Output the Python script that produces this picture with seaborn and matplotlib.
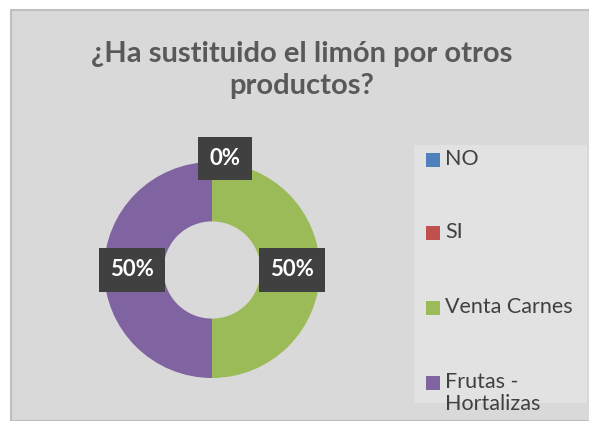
import matplotlib.pyplot as plt
import seaborn as sns
from matplotlib.patches import Rectangle
import numpy as np

# Data
categorias = ['NO', 'SI', 'Venta Carnes', 'Frutas -\nHortalizas']
valores = [0, 0, 50, 50]
etiquetas = ['0%', '', '50%', '50%']
colores = ['#4f81bd', '#c0504d', '#9bbb59', '#8064a2']
titulo = '¿Ha sustituido el limón por otros\nproductos?'

sns.set_theme(style='white')
plt.rcParams['font.family'] = ['Lato', 'DejaVu Sans']

W, H = 589, 421
fig = plt.figure(figsize=(W / 100, H / 100), dpi=100)
fig.patch.set_facecolor('white')

# chart area background
fig.patches.append(Rectangle((11 / W, 0), 1, 1 - 10 / H, transform=fig.transFigure,
                             facecolor='#d9d9d9', edgecolor='#bfbfbf', lw=1.5, zorder=-2))

# legend background
fig.patches.append(Rectangle((414 / W, 1 - 403 / H), 173 / W, 258 / H, transform=fig.transFigure,
                             facecolor='#e2e2e2', edgecolor='none', zorder=-1))

fig.text(302 / W, 1 - 70 / H, titulo, ha='center', va='center', fontsize=21,
         fontweight='bold', color='#595959', linespacing=1.25)

# donut
cx, cy, r = 212, 270, 108
ax = fig.add_axes([(cx - r) / W, 1 - (cy + r) / H, 2 * r / W, 2 * r / H])
ax.set_zorder(2)
wedges, _ = ax.pie(valores, colors=colores, startangle=90, counterclock=False,
                   wedgeprops=dict(width=0.55, edgecolor='none'))
ax.set_xlim(-1, 1)
ax.set_ylim(-1, 1)
ax.axis('off')

box = dict(boxstyle='square,pad=0.5', facecolor='#404040', edgecolor='none')
for w, v, lab in zip(wedges, valores, etiquetas):
    if not lab:
        continue
    ang = np.deg2rad((w.theta1 + w.theta2) / 2)
    if v == 0:
        x, y = 0.12, 1.03
    else:
        x, y = 0.74 * np.cos(ang), 0.74 * np.sin(ang)
    ax.text(x, y, lab, ha='center', va='center', fontsize=16, fontweight='bold',
            color='white', bbox=box, zorder=5, clip_on=False)

# legend
ys = [160, 233, 308, 383]
for lab, col, y in zip(categorias, colores, ys):
    fig.patches.append(Rectangle((426 / W, 1 - (y + 7) / H), 14 / W, 14 / H,
                                 transform=fig.transFigure, facecolor=col, edgecolor='none'))
    fig.text(445 / W, 1 - (y - 11) / H, lab, ha='left', va='top', fontsize=15.5,
             color='#404040', linespacing=1.1)

fig.savefig('out.png', dpi=100)
